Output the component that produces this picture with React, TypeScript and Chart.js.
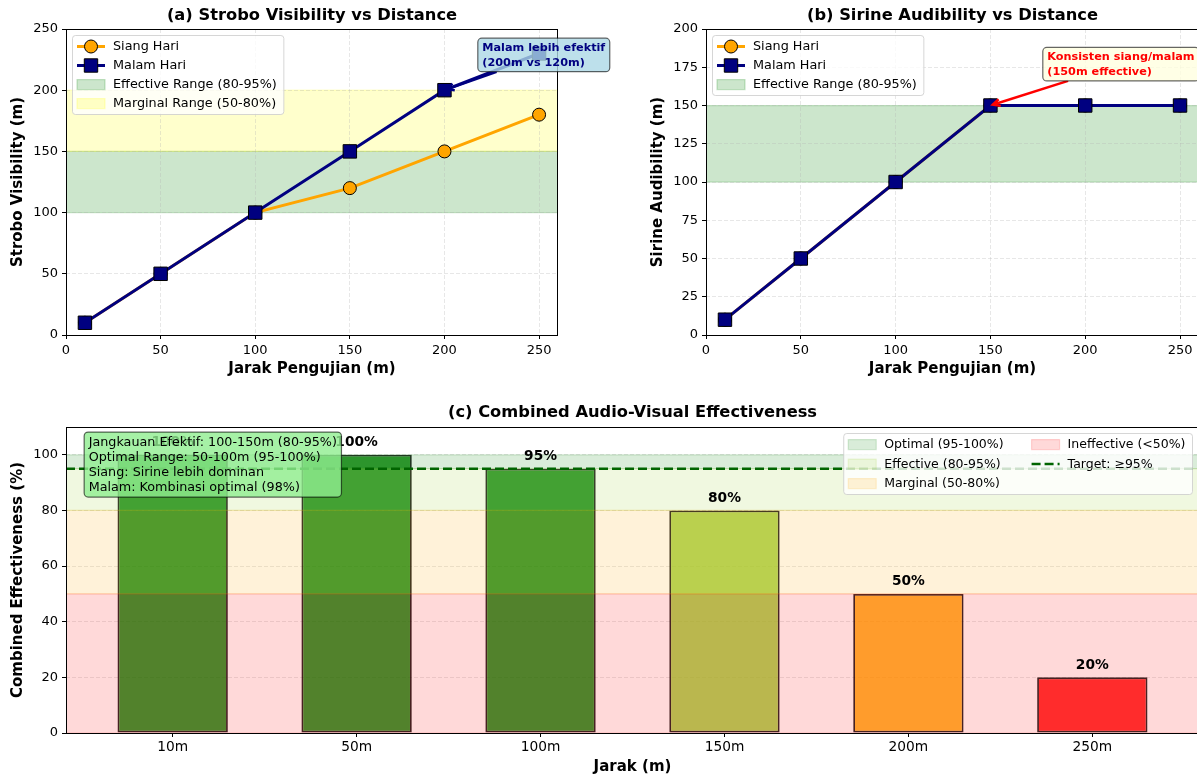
import React, { useEffect, useRef } from "react";
import { Chart, registerables } from "chart.js";

Chart.register(...registerables);

// ---------------- data ----------------
const distances = [10, 50, 100, 150, 200, 250];
const stroboSiang = [10, 50, 100, 120, 150, 180];
const stroboMalam = [10, 50, 100, 150, 200, 230];
const sirineSiang = [10, 50, 100, 150, 150, 150];
const sirineMalam = [10, 50, 100, 150, 150, 150];

const distanceTicks = [0, 50, 100, 150, 200, 250];
const stroboTicks = [0, 50, 100, 150, 200, 250];
const sirineTicks = [0, 25, 50, 75, 100, 125, 150, 175, 200];

const distanceLabels = ["10m", "50m", "100m", "150m", "200m", "250m"];
const combinedEffectiveness = [100, 100, 95, 80, 50, 20];
const effectTicks = [0, 20, 40, 60, 80, 100];

const stroboBands = [
  { label: "Effective Range (80-95%)", from: 100, to: 150 },
  { label: "Marginal Range (50-80%)", from: 150, to: 200 },
];
const sirineBands = [{ label: "Effective Range (80-95%)", from: 100, to: 150 }];
const effectBands = [
  { label: "Optimal (95-100%)", from: 95, to: 100 },
  { label: "Effective (80-95%)", from: 80, to: 95 },
  { label: "Marginal (50-80%)", from: 50, to: 80 },
  { label: "Ineffective (<50%)", from: 0, to: 50 },
];
const targetValue = 95;

const stroboNote = { lines: ["Malam lebih efektif", "(200m vs 120m)"], x: 220, y: 220, tx: 200, ty: 200 };
const sirineNote = { lines: ["Konsisten siang/malam", "(150m effective)"], x: 180, y: 170, tx: 150, ty: 150 };
const infoLines = [
  "Jangkauan Efektif: 100-150m (80-95%)",
  "Optimal Range: 50-100m (95-100%)",
  "Siang: Sirine lebih dominan",
  "Malam: Kombinasi optimal (98%)",
];

// ---------------- styles ----------------
const FONT = '"DejaVu Sans", "Liberation Sans", Arial, sans-serif';
const GRID = "rgba(176,176,176,0.3)";
const RGB: Record<string, number[]> = {
  green: [0, 128, 0],
  yellowgreen: [154, 205, 50],
  orange: [255, 165, 0],
  red: [255, 0, 0],
  yellow: [255, 255, 0],
};
const rgba = (name: string, a: number) => {
  const c = RGB[name];
  return `rgba(${c[0]},${c[1]},${c[2]},${a})`;
};
const barColorName = (v: number) => (v >= 95 ? "green" : v >= 80 ? "yellowgreen" : v >= 50 ? "orange" : "red");

function roundRect(ctx: CanvasRenderingContext2D, x: number, y: number, w: number, h: number, r: number) {
  ctx.beginPath();
  ctx.moveTo(x + r, y);
  ctx.arcTo(x + w, y, x + w, y + h, r);
  ctx.arcTo(x + w, y + h, x, y + h, r);
  ctx.arcTo(x, y + h, x, y, r);
  ctx.arcTo(x, y, x + w, y, r);
  ctx.closePath();
}

function drawBands(chart: any, bands: { from: number; to: number }[], colors: string[]) {
  const { ctx, chartArea: a } = chart;
  const ys = chart.scales.y;
  ctx.save();
  ctx.beginPath();
  ctx.rect(a.left, a.top, a.right - a.left, a.bottom - a.top);
  ctx.clip();
  bands.forEach((b, i) => {
    const y1 = ys.getPixelForValue(b.to);
    const y2 = ys.getPixelForValue(b.from);
    ctx.fillStyle = colors[i];
    ctx.strokeStyle = colors[i];
    ctx.lineWidth = 1.25;
    ctx.beginPath();
    ctx.rect(a.left - 2, y1, a.right - a.left + 4, y2 - y1);
    ctx.fill();
    ctx.stroke();
  });
  ctx.restore();
}

function drawFrame(chart: any) {
  const { ctx, chartArea: a } = chart;
  const l = Math.floor(a.left) + 0.5;
  const t = Math.floor(a.top) + 0.5;
  const r = Math.floor(a.right) - 0.5;
  const b = Math.floor(a.bottom) + 0.5;
  ctx.save();
  ctx.strokeStyle = "#000";
  ctx.lineWidth = 1;
  ctx.strokeRect(l, t, r - l, b - t);
  ctx.restore();
}

function drawTitle(chart: any, text: string, y: number) {
  const { ctx, chartArea: a } = chart;
  ctx.save();
  ctx.font = `bold 16.3px ${FONT}`;
  ctx.fillStyle = "#000";
  ctx.textAlign = "center";
  ctx.textBaseline = "middle";
  ctx.fillText(text, (a.left + a.right) / 2, y);
  ctx.restore();
}

type LegendEntry = { label: string; kind: "lineCircle" | "lineSquare" | "patch" | "dash"; color: string };

function drawHandle(ctx: CanvasRenderingContext2D, e: LegendEntry, hx: number, y: number) {
  ctx.save();
  if (e.kind === "lineCircle" || e.kind === "lineSquare") {
    ctx.strokeStyle = e.color;
    ctx.lineWidth = 3;
    ctx.beginPath();
    ctx.moveTo(hx, y);
    ctx.lineTo(hx + 28, y);
    ctx.stroke();
    ctx.fillStyle = e.color;
    ctx.strokeStyle = "#000";
    ctx.lineWidth = 1;
    ctx.beginPath();
    if (e.kind === "lineCircle") ctx.arc(hx + 14, y, 6.5, 0, Math.PI * 2);
    else ctx.rect(hx + 14 - 6.7, y - 6.7, 13.4, 13.4);
    ctx.fill();
    ctx.stroke();
  } else if (e.kind === "patch") {
    ctx.fillStyle = e.color;
    ctx.strokeStyle = e.color;
    ctx.lineWidth = 1.25;
    ctx.beginPath();
    ctx.rect(hx, y - 5, 28, 10);
    ctx.fill();
    ctx.stroke();
  } else {
    ctx.strokeStyle = e.color;
    ctx.lineWidth = 2.5;
    ctx.setLineDash([9, 4]);
    ctx.beginPath();
    ctx.moveTo(hx, y);
    ctx.lineTo(hx + 28, y);
    ctx.stroke();
  }
  ctx.restore();
}

function drawLegend(
  chart: any,
  columns: LegendEntry[][],
  opts: { anchor: "left" | "right"; rowStep: number; fontSize: number }
) {
  const { ctx, chartArea: a } = chart;
  ctx.save();
  ctx.font = `${opts.fontSize}px ${FONT}`;
  const colW = columns.map((col) => 36 + Math.max(...col.map((e) => ctx.measureText(e.label).width)));
  const width = 4.5 + colW.reduce((s, w) => s + w, 0) + (columns.length - 1) * 28 + 7;
  const rows = Math.max(...columns.map((c) => c.length));
  const height = 22 + (rows - 1) * opts.rowStep;
  const bx = opts.anchor === "left" ? a.left + 6.5 : a.right - 6.5 - width;
  const by = a.top + 6.5;
  roundRect(ctx, bx, by, width, height, 3);
  ctx.fillStyle = "rgba(255,255,255,0.8)";
  ctx.fill();
  ctx.strokeStyle = "rgba(204,204,204,0.8)";
  ctx.lineWidth = 1;
  ctx.stroke();
  let cx = bx + 4.5;
  columns.forEach((col, ci) => {
    col.forEach((e, ri) => {
      const y = by + 11 + ri * opts.rowStep;
      drawHandle(ctx, e, cx, y);
      ctx.fillStyle = "#000";
      ctx.textAlign = "left";
      ctx.textBaseline = "middle";
      ctx.fillText(e.label, cx + 36, y + 0.5);
    });
    cx += colW[ci] + 28;
  });
  ctx.restore();
}

function drawNote(
  chart: any,
  note: { lines: string[]; x: number; y: number; tx: number; ty: number },
  color: string,
  fill: string
) {
  const { ctx } = chart;
  const xs = chart.scales.x;
  const ys = chart.scales.y;
  const px = xs.getPixelForValue(note.x);
  const py = ys.getPixelForValue(note.y);
  ctx.save();
  ctx.font = `bold 11.25px ${FONT}`;
  const lh = 15;
  const n = note.lines.length;
  const w = Math.max(...note.lines.map((l) => ctx.measureText(l).width));
  const firstCenter = py - (n - 1) * lh - 4;
  const box = { x: px - 4.5, y: firstCenter - 8.5, w: w + 9, h: (n - 1) * lh + 18.5 };
  const tx = xs.getPixelForValue(note.tx);
  const ty = ys.getPixelForValue(note.ty);
  const cx = box.x + box.w / 2;
  const cy = box.y + box.h / 2;
  const dx = tx - cx;
  const dy = ty - cy;
  let t = 1;
  if (dx !== 0) t = Math.min(t, Math.abs(box.w / 2 / dx));
  if (dy !== 0) t = Math.min(t, Math.abs(box.h / 2 / dy));
  const sx = cx + dx * t;
  const sy = cy + dy * t;
  const len = Math.hypot(tx - sx, ty - sy);
  const ex = tx - ((tx - sx) / len) * 2.5;
  const ey = ty - ((ty - sy) / len) * 2.5;
  ctx.strokeStyle = color === "red" ? "red" : "navy";
  ctx.lineWidth = 2.5;
  ctx.beginPath();
  ctx.moveTo(sx, sy);
  ctx.lineTo(ex, ey);
  ctx.stroke();
  const ang = Math.atan2(ey - sy, ex - sx);
  const hl = 8;
  const hw = 0.45;
  ctx.beginPath();
  ctx.moveTo(ex - hl * Math.cos(ang - hw), ey - hl * Math.sin(ang - hw));
  ctx.lineTo(ex, ey);
  ctx.lineTo(ex - hl * Math.cos(ang + hw), ey - hl * Math.sin(ang + hw));
  ctx.stroke();
  roundRect(ctx, box.x, box.y, box.w, box.h, 4);
  ctx.fillStyle = fill;
  ctx.fill();
  ctx.strokeStyle = "rgba(0,0,0,0.6)";
  ctx.lineWidth = 1.2;
  ctx.stroke();
  ctx.fillStyle = color;
  ctx.textAlign = "left";
  ctx.textBaseline = "alphabetic";
  note.lines.forEach((l, i) => ctx.fillText(l, px, py - (n - 1 - i) * lh));
  ctx.restore();
}

// ---------------- axes ----------------
function axis(o: {
  min: number;
  max: number;
  ticks: number[];
  title: string;
  horizontal: boolean;
  fit: number;
  titlePad: number;
  grid: boolean;
  tickSize?: number;
  tickPad?: number;
  labels?: string[];
}) {
  return {
    type: "linear",
    position: o.horizontal ? "bottom" : "left",
    min: o.min,
    max: o.max,
    offset: false,
    afterBuildTicks: (s: any) => {
      s.ticks = o.ticks.map((v) => ({ value: v }));
    },
    ticks: {
      font: { family: FONT, size: o.tickSize ?? 13 },
      color: "#000",
      padding: o.tickPad ?? 4,
      maxRotation: 0,
      autoSkip: false,
      ...(o.labels ? { callback: (v: any) => o.labels![Math.round(Number(v))] ?? "" } : {}),
    },
    grid: {
      display: true,
      drawOnChartArea: o.grid,
      offset: false,
      color: GRID,
      lineWidth: 1,
      drawTicks: true,
      tickLength: 4,
      tickColor: "#000",
      tickWidth: 1,
    },
    border: { display: false, dash: [4, 2] },
    title: {
      display: true,
      text: o.title,
      color: "#000",
      font: { family: FONT, size: 15, weight: "bold" },
      padding: o.horizontal ? { top: 0, bottom: o.titlePad } : { top: o.titlePad, bottom: 0 },
    },
    afterFit: (s: any) => {
      if (o.horizontal) s.height = o.fit;
      else s.width = o.fit;
    },
  };
}

const pts = (ys: number[]) => distances.map((d, i) => ({ x: d, y: ys[i] }));

function lineDatasets(siang: number[], malam: number[]) {
  return [
    {
      label: "Siang Hari",
      data: pts(siang),
      borderColor: "orange",
      borderWidth: 3,
      pointStyle: "circle",
      pointRadius: 6.5,
      pointBackgroundColor: "orange",
      pointBorderColor: "#000",
      pointBorderWidth: 1,
      order: 2,
    },
    {
      label: "Malam Hari",
      data: pts(malam),
      borderColor: "navy",
      borderWidth: 3,
      pointStyle: "rect",
      pointRadius: 9.5,
      pointBackgroundColor: "navy",
      pointBorderColor: "#000",
      pointBorderWidth: 1,
      order: 1,
    },
  ];
}

const baseOptions = (padding: any) => ({
  responsive: false,
  animation: false,
  devicePixelRatio: 1,
  events: [],
  layout: { padding },
  plugins: { legend: { display: false }, tooltip: { enabled: false }, title: { display: false } },
});

function makeA(): any {
  const bandColors = [rgba("green", 0.2), rgba("yellow", 0.2)];
  return {
    type: "line",
    data: { datasets: lineDatasets(stroboSiang, stroboMalam) },
    options: {
      ...baseOptions({ top: 29, right: 72, left: 0, bottom: 0 }),
      scales: {
        x: axis({ min: 0, max: 260, ticks: distanceTicks, title: "Jarak Pengujian (m)", horizontal: true, fit: 55, titlePad: 12, grid: true }),
        y: axis({ min: 0, max: 250, ticks: stroboTicks, title: "Strobo Visibility (m)", horizontal: false, fit: 66, titlePad: 9, grid: true }),
      },
    },
    plugins: [
      {
        id: "plotA",
        beforeDraw: (c: any) => drawBands(c, stroboBands, bandColors),
        afterDatasetsDraw: (c: any) => {
          drawFrame(c);
          drawNote(c, stroboNote, "navy", "rgba(173,216,230,0.8)");
        },
        afterDraw: (c: any) => {
          drawTitle(c, "(a) Strobo Visibility vs Distance", 16);
          drawLegend(
            c,
            [
              [
                { label: "Siang Hari", kind: "lineCircle", color: "orange" },
                { label: "Malam Hari", kind: "lineSquare", color: "navy" },
                { label: stroboBands[0].label, kind: "patch", color: bandColors[0] },
                { label: stroboBands[1].label, kind: "patch", color: bandColors[1] },
              ],
            ],
            { anchor: "left", rowStep: 19, fontSize: 12.8 }
          );
        },
      },
    ],
  };
}

function makeB(): any {
  const bandColors = [rgba("green", 0.2)];
  return {
    type: "line",
    data: { datasets: lineDatasets(sirineSiang, sirineMalam) },
    options: {
      ...baseOptions({ top: 29, right: 41, left: 0, bottom: 0 }),
      scales: {
        x: axis({ min: 0, max: 260, ticks: distanceTicks, title: "Jarak Pengujian (m)", horizontal: true, fit: 55, titlePad: 12, grid: true }),
        y: axis({ min: 0, max: 200, ticks: sirineTicks, title: "Sirine Audibility (m)", horizontal: false, fit: 66, titlePad: 9, grid: true }),
      },
    },
    plugins: [
      {
        id: "plotB",
        beforeDraw: (c: any) => drawBands(c, sirineBands, bandColors),
        afterDatasetsDraw: (c: any) => {
          drawFrame(c);
          drawNote(c, sirineNote, "red", "rgba(255,255,224,0.8)");
        },
        afterDraw: (c: any) => {
          drawTitle(c, "(b) Sirine Audibility vs Distance", 16);
          drawLegend(
            c,
            [
              [
                { label: "Siang Hari", kind: "lineCircle", color: "orange" },
                { label: "Malam Hari", kind: "lineSquare", color: "navy" },
                { label: sirineBands[0].label, kind: "patch", color: bandColors[0] },
              ],
            ],
            { anchor: "left", rowStep: 19, fontSize: 12.8 }
          );
        },
      },
    ],
  };
}

function makeC(): any {
  const bandColors = [rgba("green", 0.15), rgba("yellowgreen", 0.15), rgba("orange", 0.15), rgba("red", 0.15)];
  return {
    type: "bar",
    data: {
      datasets: [
        {
          label: "Combined Effectiveness",
          data: combinedEffectiveness.map((v, i) => ({ x: i, y: v })),
          backgroundColor: combinedEffectiveness.map((v) => rgba(barColorName(v), 0.8)),
          borderColor: "rgba(0,0,0,0.85)",
          borderWidth: 1.8,
          borderSkipped: false,
          barPercentage: 0.6,
          categoryPercentage: 1,
        },
      ],
    },
    options: {
      ...baseOptions({ top: 32, right: 41, left: 0, bottom: 0 }),
      scales: {
        x: axis({
          min: -0.58,
          max: 5.58,
          ticks: distanceLabels.map((_, i) => i),
          labels: distanceLabels,
          title: "Jarak (m)",
          horizontal: true,
          fit: 46,
          titlePad: 3,
          grid: false,
          tickSize: 13.75,
          tickPad: 2,
        }),
        y: axis({ min: 0, max: 110, ticks: effectTicks, title: "Combined Effectiveness (%)", horizontal: false, fit: 66, titlePad: 9, grid: true }),
      },
    },
    plugins: [
      {
        id: "plotC",
        afterDatasetsDraw: (c: any) => {
          const { ctx, chartArea: a } = c;
          const xs = c.scales.x;
          const ys = c.scales.y;
          drawBands(c, effectBands, bandColors);
          // target line
          const ty = ys.getPixelForValue(targetValue);
          ctx.save();
          ctx.strokeStyle = "#006400";
          ctx.lineWidth = 2.5;
          ctx.setLineDash([9, 4]);
          ctx.beginPath();
          ctx.moveTo(a.left, ty);
          ctx.lineTo(a.right, ty);
          ctx.stroke();
          ctx.restore();
          drawFrame(c);
          // value labels
          ctx.save();
          ctx.font = `bold 13.75px ${FONT}`;
          ctx.fillStyle = "#000";
          ctx.textAlign = "center";
          ctx.textBaseline = "alphabetic";
          combinedEffectiveness.forEach((v, i) => {
            ctx.fillText(`${v}%`, xs.getPixelForValue(i), ys.getPixelForValue(v + 2) - 3.2);
          });
          ctx.restore();
          // info box
          ctx.save();
          ctx.font = `12.75px ${FONT}`;
          const tx = a.left + 0.02 * (a.right - a.left);
          const top = a.top + 0.02 * (a.bottom - a.top) - 1;
          const lh = 15;
          const w = Math.max(...infoLines.map((l) => ctx.measureText(l).width));
          roundRect(ctx, tx - 4.5, top, w + 9, 20 + (infoLines.length - 1) * lh, 4);
          ctx.fillStyle = "rgba(144,238,144,0.8)";
          ctx.fill();
          ctx.strokeStyle = "rgba(0,0,0,0.6)";
          ctx.lineWidth = 1.2;
          ctx.stroke();
          ctx.fillStyle = "#000";
          ctx.textAlign = "left";
          ctx.textBaseline = "middle";
          infoLines.forEach((l, i) => ctx.fillText(l, tx, top + 10.5 + i * lh));
          ctx.restore();
        },
        afterDraw: (c: any) => {
          drawTitle(c, "(c) Combined Audio-Visual Effectiveness", 18);
          drawLegend(
            c,
            [
              [
                { label: effectBands[0].label, kind: "patch", color: bandColors[0] },
                { label: effectBands[1].label, kind: "patch", color: bandColors[1] },
                { label: effectBands[2].label, kind: "patch", color: bandColors[2] },
              ],
              [
                { label: effectBands[3].label, kind: "patch", color: bandColors[3] },
                { label: `Target: \u2265${targetValue}%`, kind: "dash", color: "#006400" },
              ],
            ],
            { anchor: "right", rowStep: 19.5, fontSize: 12.5 }
          );
        },
      },
    ],
  };
}

function ChartCanvas(props: { make: () => any; left: number; top: number; width: number; height: number }) {
  const ref = useRef<HTMLCanvasElement>(null);
  useEffect(() => {
    const chart = new Chart(ref.current as HTMLCanvasElement, props.make());
    return () => chart.destroy();
  }, []);
  return (
    <canvas
      ref={ref}
      width={props.width}
      height={props.height}
      style={{
        position: "absolute",
        left: props.left,
        top: props.top,
        width: props.width,
        height: props.height,
        display: "block",
      }}
    />
  );
}

export default function App() {
  return (
    <div
      style={{
        position: "absolute",
        left: 0,
        top: 0,
        width: 1197,
        height: 779,
        overflow: "hidden",
        background: "#fff",
      }}
    >
      <ChartCanvas make={makeA} left={0} top={0} width={630} height={390} />
      <ChartCanvas make={makeB} left={640} top={0} width={600} height={390} />
      <ChartCanvas make={makeC} left={0} top={395} width={1240} height={384} />
    </div>
  );
}
